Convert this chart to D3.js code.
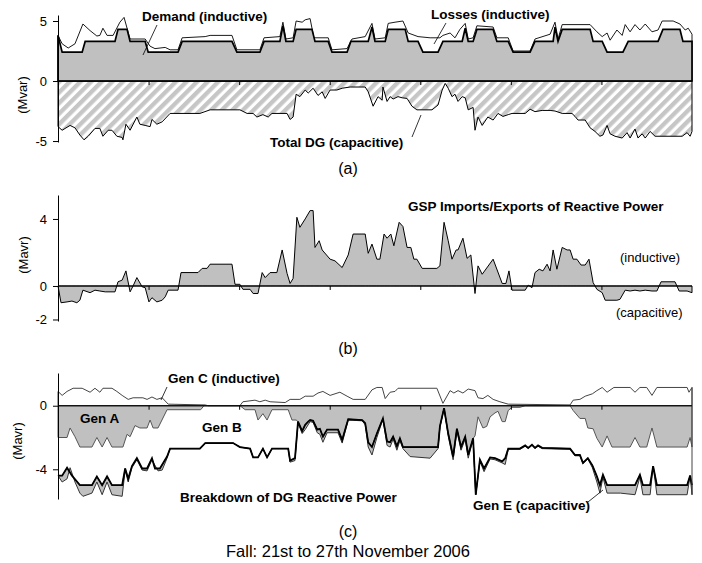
<!DOCTYPE html>
<html><head><meta charset="utf-8">
<script src="https://cdn.jsdelivr.net/npm/d3@7"></script>
<style>body{margin:0;background:#fff}svg{display:block;font-family:"Liberation Sans",Arial,sans-serif}</style>
</head><body>
<svg id="chart" width="702" height="563"></svg>
<script>
// ---- data: [hour, Mvar] over the week (0..168 h) ----
const dayTicks = [24, 48, 72, 96, 120, 144];
const ticksA = [-5, 0, 5];
const ticksB = [-2, 0, 4];
const ticksC = [-4, 0];

const demand = [[0,3.8],[1.1,2.4],[6.4,2.4],[7.2,3.3],[15.1,3.3],[15.9,4.3],[18.3,4.3],[19.1,3.3],[23.1,3.3],[23.9,2.4],[31.8,2.4],[32.9,3.3],[46.1,3.3],[47.4,2.4],[53.5,2.4],[54.6,3.3],[58.8,3.3],[59.6,4.6],[60.4,3.3],[62.3,3.3],[63.1,4.3],[67.3,4.3],[68.1,3.3],[71.6,3.3],[72.6,2.4],[76.6,2.4],[77.6,3.3],[82.2,3.3],[83.2,4.5],[84.0,3.3],[86.7,3.3],[87.5,4.3],[92.0,4.3],[92.8,3.3],[95.4,3.3],[96.7,2.4],[100.7,2.4],[102.0,3.3],[107.1,3.3],[107.9,4.4],[108.7,3.3],[110.0,3.3],[111.0,4.3],[115.3,4.3],[116.3,3.3],[119.3,3.3],[120.6,2.4],[125.1,2.4],[126.4,3.3],[131.2,3.3],[131.7,4.5],[132.5,3.3],[133.6,4.3],[141.0,4.3],[141.8,3.3],[144.2,3.3],[145.5,2.4],[149.7,2.4],[151.1,3.3],[159.0,3.3],[160.3,4.3],[164.8,4.3],[165.6,3.3],[168,3.3]];

const demandPlusLosses = [[0,3.8],[1.1,3.1],[2.7,2.75],[4.5,3.1],[6.6,4.75],[8.5,4.2],[10.3,3.75],[11.1,3.8],[11.9,4.4],[13.0,3.8],[14.6,3.8],[16.4,4.9],[17.5,5.3],[19.1,3.5],[23.1,3.5],[24.4,2.9],[25.7,2.7],[28.4,2.8],[29.7,2.6],[31.8,2.6],[32.9,3.6],[39.0,3.7],[40.3,3.8],[46.1,3.8],[47.4,2.6],[53.5,2.6],[54.6,3.6],[58.8,3.7],[59.6,4.9],[60.4,3.5],[62.3,3.6],[63.1,5.0],[64.7,4.9],[65.5,5.1],[66.8,5.2],[67.8,3.6],[71.6,3.6],[72.6,2.6],[76.6,2.7],[77.9,3.5],[81.4,3.7],[83.2,4.8],[84.0,3.5],[86.7,3.6],[87.5,4.8],[89.3,4.9],[91.4,5.0],[92.8,4.0],[95.4,3.7],[98.6,3.6],[101.2,3.6],[102.0,3.8],[103.9,4.0],[105.2,3.6],[106.5,4.3],[107.9,4.8],[108.7,3.5],[110.0,3.6],[111.0,4.6],[115.3,4.5],[116.3,3.6],[119.3,3.6],[120.6,2.5],[125.1,2.5],[126.4,3.5],[130.4,3.9],[131.7,4.9],[132.5,3.5],[133.6,4.7],[141.0,4.7],[142.8,4.1],[144.2,3.7],[145.5,4.0],[146.3,3.4],[148.1,4.25],[149.5,3.8],[150.3,4.7],[151.6,4.1],[152.9,4.7],[154.2,4.25],[155.6,4.75],[157.4,4.1],[159.0,4.25],[160.1,5.0],[163.0,5.0],[164.8,4.75],[166.2,4.25],[167.0,4.4],[168,3.9]];

const totalDG = [[0,-3.8],[1.1,-4.1],[3.2,-3.7],[4.5,-3.9],[5.8,-4.5],[6.9,-4.9],[8.0,-4.6],[9.8,-3.95],[11.1,-3.95],[11.9,-4.6],[13.3,-4.1],[14.3,-4.1],[15.6,-4.6],[17.0,-4.7],[17.2,-4.9],[18.0,-3.6],[19.1,-4.1],[20.9,-3.0],[21.7,-3.6],[23.1,-3.7],[24.4,-3.8],[24.9,-3.2],[26.2,-3.6],[27.6,-3.4],[29.7,-2.7],[37.6,-2.7],[40.3,-2.4],[48.2,-2.4],[50.1,-2.7],[51.7,-2.7],[52.7,-3.0],[54.3,-2.8],[55.7,-3.0],[56.7,-2.7],[60.7,-2.7],[61.5,-3.2],[62.3,-3.0],[63.1,-1.1],[64.1,-1.3],[65.5,-0.75],[66.3,-1.0],[67.6,-0.6],[68.9,-1.2],[70.0,-0.9],[70.8,-1.45],[72.1,-0.75],[73.9,-0.75],[75.3,-0.6],[77.4,-0.5],[81.4,-0.5],[82.2,-0.9],[83.5,-2.1],[84.8,-1.3],[85.9,-1.6],[86.1,-0.5],[87.2,-1.7],[88.0,-1.3],[88.8,-1.5],[90.1,-1.3],[91.2,-1.4],[92.5,-1.45],[93.8,-2.1],[95.1,-2.4],[99.1,-2.4],[100.7,-2.0],[101.8,-0.75],[102.6,-0.2],[103.4,-0.6],[104.4,-1.3],[105.2,-1.1],[106.0,-1.7],[107.1,-1.3],[107.9,-1.4],[108.7,-2.4],[110.0,-2.2],[110.5,-4.1],[111.3,-3.0],[112.4,-3.7],[113.9,-3.0],[115.3,-3.25],[116.6,-2.7],[117.9,-2.95],[119.3,-2.8],[120.3,-2.7],[123.8,-2.7],[125.1,-2.35],[126.4,-2.55],[128.3,-2.45],[130.4,-2.45],[131.7,-2.5],[133.6,-2.7],[136.2,-2.7],[137.0,-2.95],[137.8,-3.25],[139.7,-3.25],[141.0,-3.9],[142.3,-4.2],[143.6,-4.6],[144.4,-4.5],[145.5,-3.7],[146.3,-4.4],[147.6,-4.6],[149.5,-4.75],[150.8,-4.3],[151.6,-4.75],[152.9,-4.0],[153.7,-4.75],[154.8,-4.4],[155.6,-4.75],[156.9,-4.2],[158.2,-4.6],[165.4,-4.6],[166.7,-4.3],[167.5,-4.6],[168,-4.2]];

const gsp = [[0,0],[0.8,-1.0],[2.4,-0.95],[3.7,-0.9],[5.0,-1.0],[5.8,-0.85],[6.6,-0.25],[8.5,-0.4],[9.8,-0.25],[11.1,-0.3],[12.5,-0.35],[15.1,-0.35],[15.9,0.25],[17.0,0.35],[18.0,0.9],[19.1,-0.35],[19.9,0],[20.9,0.5],[22.3,-0.05],[23.1,-0.1],[24.1,-0.95],[24.9,-0.7],[26.2,-0.95],[27.6,-0.85],[28.4,-0.65],[29.2,-0.25],[31.8,-0.25],[32.6,0.8],[37.1,0.8],[38.2,1.05],[39.5,1.05],[40.3,1.3],[46.1,1.3],[46.9,0.1],[48.2,0.1],[49.0,-0.2],[50.9,-0.2],[51.7,-0.45],[53.0,-0.45],[54.1,0.8],[54.9,0.5],[56.2,0.8],[58.0,0.8],[59.4,2.15],[60.7,0.75],[61.5,0.15],[62.3,0.45],[63.3,4.1],[64.1,3.5],[65.5,4.0],[66.8,4.5],[67.6,4.5],[68.1,2.3],[69.2,2.7],[70.0,2.15],[72.1,1.6],[73.4,1.5],[75.3,1.1],[76.9,1.85],[78.2,3.1],[81.4,3.1],[82.2,1.95],[83.2,2.5],[84.5,1.6],[85.3,1.6],[86.4,3.1],[87.2,2.85],[88.2,3.1],[89.0,2.4],[90.4,3.8],[91.4,3.55],[92.5,2.3],[93.5,2.3],[94.3,1.6],[95.1,1.6],[96.5,1.05],[100.4,1.05],[101.2,1.2],[102.3,3.8],[103.4,2.7],[104.4,1.6],[105.5,2.15],[106.0,2.15],[107.3,2.85],[108.4,1.65],[109.4,1.85],[110.5,-0.45],[111.3,1.2],[112.4,0.7],[115.3,1.6],[117.7,0.15],[118.7,0.15],[119.5,0.9],[120.3,-0.25],[123.8,-0.25],[124.6,0.05],[125.6,-0.1],[126.4,0.8],[127.5,1.0],[128.5,0.9],[129.6,1.3],[130.4,0.9],[131.2,2.15],[132.2,1.0],[133.6,2.3],[134.9,2.15],[135.7,2.15],[136.5,1.6],[137.5,1.6],[138.6,1.25],[139.7,1.25],[140.7,1.6],[141.8,0.2],[142.8,-0.2],[144.2,-0.4],[145.0,-0.85],[148.1,-0.85],[148.9,-0.8],[150.3,-0.25],[151.6,-0.3],[152.9,-0.25],[154.2,-0.3],[155.6,-0.25],[157.4,-0.3],[158.7,-0.3],[159.8,0.25],[163.5,0.25],[164.6,-0.3],[166.7,-0.3],[168,-0.4]];

const genC = [[0,0.9],[1.1,0.65],[2.4,0.9],[4.0,1.1],[6.4,1.1],[8.5,0.85],[9.8,1.1],[11.1,0.85],[11.9,1.1],[14.3,1.1],[15.6,0.9],[17.0,0.65],[18.6,0.4],[19.9,0.5],[22.5,0.5],[23.6,0.4],[24.9,0.55],[26.2,0.4],[27.6,0.5],[29.2,0.1],[39.0,0.05],[39.8,0],[48.2,0],[49.0,0.25],[52.2,0.35],[53.5,0.25],[54.9,0.35],[56.2,0.25],[60.2,0.2],[61.5,0.4],[64.1,0.4],[65.5,0.6],[67.6,0.6],[68.9,0.8],[70.2,0.9],[72.1,0.65],[74.7,0.85],[76.6,0.6],[78.2,0.4],[81.4,0.4],[83.2,1.0],[84.5,1.15],[85.9,1.15],[86.7,0.45],[88.0,0.85],[89.3,0.9],[90.1,1.1],[100.4,1.1],[102.0,0.15],[103.9,0.95],[104.9,0.8],[106.0,0.95],[107.3,0.8],[108.7,1.05],[110.5,0.95],[111.3,0.5],[112.6,0.45],[113.9,0.65],[115.3,0.4],[117.1,0.25],[119.3,0.1],[135.7,0.05],[136.5,0.35],[138.3,0.4],[139.7,0.6],[141.6,0.75],[142.8,0.95],[144.2,1.15],[145.5,0.85],[147.3,1.15],[151.6,1.15],[152.9,0.85],[154.2,1.15],[156.0,1.15],[157.4,0.65],[158.7,1.15],[166.7,1.15],[167.2,0.85],[168,1.15]];

// cumulative (stacked) lower edges of Gen A, Gen B and Gen E
const edgeGenA = [[0,-2.0],[2.4,-2.0],[3.2,-1.4],[4.5,-1.95],[5.8,-2.6],[9.0,-2.6],[10.3,-2.0],[11.7,-2.6],[13.0,-2.0],[14.3,-2.6],[17.2,-2.6],[18.3,-1.8],[19.1,-1.95],[20.4,-1.25],[21.7,-1.4],[23.6,-1.4],[24.4,-0.9],[25.2,-1.4],[26.5,-1.4],[28.9,-0.25],[37.8,-0.25],[38.7,0],[48.2,0],[49.6,-0.25],[52.2,-0.25],[53.0,-0.9],[54.3,-0.5],[55.4,-0.9],[56.7,-0.25],[61.0,-0.25],[62.0,-0.9],[63.1,-0.9],[63.6,-1.0],[64.7,-1.6],[65.5,-1.2],[66.3,-1.0],[66.8,-0.9],[67.6,-0.95],[68.7,-1.5],[69.4,-1.45],[70.2,-1.95],[71.3,-1.5],[74.2,-1.5],[75.3,-2.15],[76.9,-0.85],[80.6,-0.9],[81.4,-1.1],[82.2,-2.3],[83.2,-2.6],[84.5,-1.75],[86.1,-0.8],[87.2,-2.25],[88.0,-2.3],[88.8,-1.95],[89.8,-2.55],[90.6,-2.05],[91.4,-2.6],[100.7,-2.6],[101.2,-1.3],[102.3,-0.15],[103.4,-1.75],[104.7,-3.2],[105.7,-1.45],[106.8,-2.6],[107.9,-1.95],[108.7,-3.1],[110.0,-2.05],[110.5,-1.9],[111.3,-0.7],[112.6,-1.4],[113.6,-1.3],[114.5,-0.7],[115.8,-0.45],[116.6,-0.35],[117.7,-1.0],[118.5,-1.0],[119.3,-0.3],[120.3,-0.1],[122.4,-0.1],[123.8,0],[135.7,0],[136.5,-0.3],[138.3,-0.8],[139.7,-0.8],[140.4,-1.4],[141.8,-1.45],[142.8,-2.05],[144.2,-2.6],[145.5,-1.9],[146.8,-2.6],[151.6,-2.6],[152.9,-2.0],[154.2,-2.6],[156.0,-2.6],[157.4,-1.4],[158.7,-2.6],[166.7,-2.6],[167.5,-2.0],[168,-2.6]];

const edgeGenB = [[0,-4.4],[1.1,-4.4],[2.4,-3.9],[3.7,-4.4],[5.8,-5.0],[9.0,-5.0],[10.3,-4.45],[11.7,-5.0],[13.0,-4.45],[14.3,-5.0],[17.0,-5.0],[17.8,-3.95],[18.6,-4.6],[19.6,-3.8],[20.9,-3.3],[22.3,-3.95],[23.6,-3.95],[24.9,-3.3],[25.7,-3.95],[27.0,-3.95],[28.9,-3.2],[29.7,-2.7],[37.6,-2.7],[39.0,-2.35],[46.4,-2.35],[48.2,-2.6],[50.9,-2.7],[51.7,-3.25],[53.0,-3.25],[54.3,-2.7],[55.4,-3.25],[56.7,-2.7],[61.0,-2.7],[61.5,-3.45],[62.8,-3.3],[63.6,-1.0],[64.7,-1.6],[65.5,-1.2],[66.3,-1.0],[66.8,-0.9],[67.6,-0.95],[68.7,-1.5],[69.4,-1.45],[70.2,-1.95],[71.3,-1.5],[74.2,-1.5],[75.3,-2.15],[76.9,-0.85],[80.6,-0.9],[81.4,-1.1],[82.2,-2.3],[83.2,-2.6],[84.5,-1.75],[86.1,-0.8],[87.2,-2.25],[88.0,-2.3],[88.8,-1.95],[89.8,-2.55],[90.6,-2.05],[91.4,-2.6],[100.7,-2.6],[101.2,-1.3],[102.3,-0.15],[103.4,-1.75],[104.7,-3.2],[105.7,-1.45],[106.8,-2.6],[107.9,-1.95],[108.7,-3.1],[110.0,-2.05],[110.7,-5.6],[111.8,-3.4],[112.9,-3.95],[114.5,-3.25],[115.8,-3.3],[117.7,-3.5],[118.5,-3.3],[119.3,-2.7],[122.4,-2.7],[123.8,-2.5],[124.6,-2.65],[125.6,-2.45],[126.4,-2.65],[127.2,-2.5],[128.3,-2.65],[135.7,-2.7],[137.0,-3.1],[138.3,-3.1],[139.1,-3.6],[140.4,-3.3],[141.6,-3.75],[142.8,-4.45],[143.6,-5.0],[144.4,-4.35],[145.5,-5.0],[152.9,-5.0],[154.2,-4.35],[155.0,-5.0],[156.9,-5.0],[157.7,-3.8],[158.7,-5.0],[166.7,-5.0],[167.5,-4.4],[168,-5.0]];

const edgeGenE = [[0,-4.4],[1.1,-4.8],[2.4,-4.6],[3.2,-3.9],[4.5,-4.8],[5.8,-5.5],[6.6,-5.7],[9.0,-5.5],[10.3,-4.8],[11.7,-5.6],[13.0,-4.8],[14.3,-5.6],[17.0,-5.7],[17.8,-4.05],[18.6,-4.8],[19.6,-3.9],[20.9,-3.4],[22.3,-4.05],[23.6,-4.1],[24.9,-3.4],[26.5,-4.1],[27.6,-4.05],[28.9,-3.3],[29.7,-2.7],[37.6,-2.7],[39.0,-2.35],[46.4,-2.35],[48.2,-2.6],[50.9,-2.7],[51.7,-3.25],[53.0,-3.25],[54.3,-2.7],[55.4,-3.25],[56.7,-2.7],[61.0,-2.7],[61.5,-3.55],[62.8,-3.45],[63.6,-1.1],[64.7,-1.75],[65.5,-1.5],[66.8,-1.0],[67.6,-1.05],[68.7,-1.7],[69.4,-1.8],[70.2,-2.3],[71.3,-1.7],[74.2,-1.7],[75.3,-2.35],[76.9,-0.9],[80.6,-0.95],[81.4,-1.2],[82.2,-2.6],[83.2,-3.1],[84.5,-2.0],[86.1,-0.85],[87.2,-2.5],[88.0,-2.6],[88.8,-2.1],[89.8,-2.8],[90.6,-2.2],[91.4,-2.7],[93.3,-3.2],[98.6,-3.3],[100.7,-2.7],[101.2,-1.35],[102.3,-0.15],[103.4,-1.9],[104.7,-3.4],[105.7,-1.6],[106.8,-2.8],[107.9,-2.1],[108.7,-3.3],[110.0,-2.1],[110.7,-5.6],[111.8,-3.5],[112.9,-4.15],[114.5,-3.35],[115.8,-3.4],[117.7,-3.6],[118.5,-3.7],[119.3,-2.75],[122.4,-2.75],[123.8,-2.55],[124.6,-2.7],[125.6,-2.5],[126.4,-2.7],[127.2,-2.55],[128.3,-2.7],[135.7,-2.75],[137.0,-3.15],[138.3,-3.15],[139.1,-3.65],[140.4,-3.35],[141.6,-3.9],[142.8,-4.8],[143.6,-5.5],[144.4,-4.5],[145.5,-5.5],[149.0,-5.5],[152.9,-5.6],[154.2,-4.5],[155.0,-5.6],[156.9,-5.6],[157.7,-3.8],[158.7,-5.6],[166.7,-5.6],[167.5,-4.4],[168,-5.6]];

// ---- drawing ----
const svg = d3.select("#chart");
const FONT = '"Liberation Sans", Arial, sans-serif';
const GRAY = "#c0c0c0";

const x = d3.scaleLinear().domain([0, 168]).range([58, 692]);
const yA = d3.scaleLinear().domain([-5.08, 5.5]).range([142, 15]);
const yB = d3.scaleLinear().domain([-2.09, 5.43]).range([321, 195]);
const yC = d3.scaleLinear().domain([-5.87, 2.06]).range([499, 373]);

const defs = svg.append("defs");
const pat = defs.append("pattern").attr("id", "hatch")
  .attr("patternUnits", "userSpaceOnUse").attr("width", 7.5).attr("height", 7.5)
  .attr("patternTransform", "rotate(45)");
pat.append("rect").attr("width", 7.5).attr("height", 7.5).attr("fill", "#fff");
pat.append("rect").attr("width", 4.3).attr("height", 7.5).attr("fill", "#c6c6c6");

function areaTo0(y) {
  return d3.area().x(d => x(d[0])).y0(y(0)).y1(d => y(d[1]));
}
function lineOf(y) {
  return d3.line().x(d => x(d[0])).y(d => y(d[1]));
}
function band(y, upper, lower) {
  const pts = upper.map(d => [x(d[0]), y(d[1])])
    .concat(lower.slice().reverse().map(d => [x(d[0]), y(d[1])]));
  return d3.line()(pts) + "Z";
}
function yAxis(y, vals) {
  const g = svg.append("g").attr("transform", "translate(58,0)")
    .call(d3.axisLeft(y).tickValues(vals).tickSize(5).tickSizeOuter(0)
      .tickPadding(6).tickFormat(d => String(d)));
  g.selectAll("text").attr("font-size", 13).attr("font-family", FONT).attr("fill", "#000");
  g.selectAll("path,line").attr("stroke", "#000");
}
function zeroAxis(y) {
  svg.append("line").attr("x1", x(0)).attr("x2", x(168))
    .attr("y1", y(0)).attr("y2", y(0)).attr("stroke", "#000").attr("stroke-width", 1.2);
  const g = svg.append("g").attr("transform", `translate(0,${y(0)})`)
    .call(d3.axisBottom(x).tickValues(dayTicks).tickSize(4).tickFormat(""));
  g.select(".domain").remove();
  g.selectAll("line").attr("stroke", "#000");
}
function txt(t, px, py, opt = {}) {
  svg.append("text").attr("x", px).attr("y", py).text(t)
    .attr("font-family", FONT).attr("font-size", opt.size || 13)
    .attr("font-weight", opt.bold ? "bold" : "normal")
    .attr("text-anchor", opt.anchor || "start").attr("fill", "#000");
}
function leader(x1, y1, x2, y2) {
  svg.append("line").attr("x1", x1).attr("y1", y1).attr("x2", x2).attr("y2", y2)
    .attr("stroke", "#000").attr("stroke-width", 0.8);
}
function yLabel(t, px, py) {
  svg.append("text").attr("transform", `translate(${px},${py}) rotate(-90)`)
    .attr("text-anchor", "middle").attr("font-family", FONT).attr("font-size", 13).text(t);
}
const B = {bold: true, size: 13.5};

// Panel (a)
svg.append("path").attr("d", areaTo0(yA)(totalDG)).attr("fill", "url(#hatch)")
  .attr("stroke", "#000").attr("stroke-width", 1);
svg.append("path").attr("d", areaTo0(yA)(demandPlusLosses)).attr("fill", "none")
  .attr("stroke", "#000").attr("stroke-width", 0.9);
svg.append("path").attr("d", areaTo0(yA)(demand)).attr("fill", GRAY)
  .attr("stroke", "#000").attr("stroke-width", 1.7);
zeroAxis(yA);
yAxis(yA, ticksA);
yLabel("(Mvar)", 27, 95);
txt("Demand (inductive)", 142, 21, B);
leader(157, 25, 143, 55);
txt("Losses (inductive)", 431, 19, B);
leader(446, 23, 434, 44);
txt("Total DG (capacitive)", 270, 147, B);
leader(421, 115, 412, 137);
txt("(a)", 348, 174, {size: 16, anchor: "middle"});

// Panel (b)
svg.append("path").attr("d", areaTo0(yB)(gsp)).attr("fill", GRAY)
  .attr("stroke", "#000").attr("stroke-width", 1);
zeroAxis(yB);
yAxis(yB, ticksB);
yLabel("(Mavr)", 28, 255);
txt("GSP Imports/Exports of Reactive Power", 408, 211, B);
txt("(inductive)", 620, 262);
txt("(capacitive)", 616, 317);
txt("(b)", 348, 354, {size: 16, anchor: "middle"});

// Panel (c)
svg.append("path").attr("d", areaTo0(yC)(edgeGenA)).attr("fill", GRAY)
  .attr("stroke", "#555").attr("stroke-width", 1);
svg.append("path").attr("d", band(yC, edgeGenB, edgeGenE)).attr("fill", GRAY)
  .attr("stroke", "#333").attr("stroke-width", 1);
svg.append("path").attr("d", lineOf(yC)(edgeGenB)).attr("fill", "none")
  .attr("stroke", "#000").attr("stroke-width", 1.8);
svg.append("path").attr("d", areaTo0(yC)(genC)).attr("fill", "none")
  .attr("stroke", "#444").attr("stroke-width", 1);
svg.append("line").attr("x1", x(168)).attr("x2", x(168))
  .attr("y1", yC(genC[genC.length - 1][1])).attr("y2", yC(edgeGenE[edgeGenE.length - 1][1]))
  .attr("stroke", "#444").attr("stroke-width", 1);
zeroAxis(yC);
yAxis(yC, ticksC);
yLabel("(Mavr)", 22, 441);
txt("Gen C (inductive)", 168, 383, B);
leader(167, 387, 161, 400);
txt("Gen A", 80, 423, B);
txt("Gen B", 202, 432, B);
txt("Breakdown of DG Reactive Power", 180, 502, B);
txt("Gen E (capacitive)", 473, 510, B);
leader(588, 502, 603, 490);
txt("(c)", 348, 537, {size: 16, anchor: "middle"});
txt("Fall: 21st to 27th November 2006", 348, 557, {size: 16.5, anchor: "middle"});
</script>
</body></html>
